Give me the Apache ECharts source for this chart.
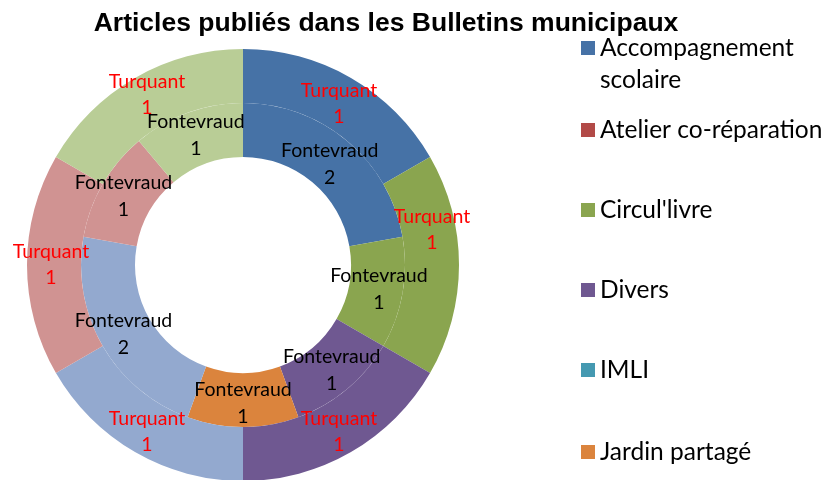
<!DOCTYPE html>
<html>
<head>
<meta charset="utf-8">
<script src="https://cdn.jsdelivr.net/npm/echarts@6/dist/echarts.min.js"></script>
<style>
  body{margin:0;background:#fff}
  #main{width:832px;height:480px}
</style>
</head>
<body>
<div id="main"></div>
<script>
// categories (the last three are cut off from the legend in the original)
let categories=['Accompagnement scolaire','Atelier co-réparation',"Circul'livre",'Divers','IMLI','Jardin partagé','Catégorie 7','Catégorie 8','Catégorie 9']
let legendNames=['Accompagnement scolaire','Atelier co-réparation',"Circul'livre",'Divers','IMLI','Jardin partagé']
let fontevraud=[2,0,1,1,0,1,2,1,1]
let turquant=[1,0,1,1,0,0,1,1,1]

let colors=['#4672a6','#b24a47','#8aa54f','#6f5891','#4599b1','#db843d','#93a9cf','#d09392','#b9cd96']
let legendTops=[0,114,194,274,354,436]

function buildData(values){
  return categories.map((name,i)=>({
    name:name,
    value:values[i],
    itemStyle:{color:colors[i]},
    label:{show:values[i]>0}
  }))
}

let legends=legendNames.map((name,i)=>({
  orient:'vertical',
  left:581,
  top:legendTops[i],
  padding:0,
  icon:'rect',
  itemWidth:14,
  itemHeight:14,
  data:[name],
  // blank first line so the square sits on the first text line
  formatter:n=>n==='Accompagnement scolaire'?'\nAccompagnement\nscolaire':n,
  textStyle:{
    fontFamily:'Lato',
    fontSize:24.5,
    lineHeight:32,
    color:'#000'
  }
}))

// small nudges, the way Excel placed a few labels
let innerNudge={0:[-2,5]}
let outerNudge={0:[0,5],2:[-3,-35],8:[0,-4]}
function nudge(table){
  return p=>{
    let d=table[p.dataIndex]||[0,0]
    return {dx:d[0],dy:d[1],hideOverlap:false}
  }
}

let option={
  animation:false,
  title:{
    text:'Articles publiés dans les Bulletins municipaux',
    left:386,
    top:10,
    padding:0,
    textAlign:'center',
    textStyle:{fontFamily:'Liberation Sans',fontWeight:'bold',fontSize:26.5,color:'#000'}
  },
  legend:legends,
  series:[
    {
      name:'Fontevraud',
      type:'pie',
      center:[243,265],
      radius:[108,162],
      label:{position:'inside',formatter:'{a}\n{c}',fontFamily:'Lato',fontSize:19.5,lineHeight:27,color:'#000'},
      labelLine:{show:false},
      labelLayout:nudge(innerNudge),
      data:buildData(fontevraud)
    },
    {
      name:'Turquant',
      type:'pie',
      center:[243,265],
      radius:[162,216],
      label:{position:'inside',formatter:'{a}\n{c}',fontFamily:'Lato',fontSize:19.5,lineHeight:26,color:'#ff0000'},
      labelLine:{show:false},
      labelLayout:nudge(outerNudge),
      data:buildData(turquant)
    }
  ]
}

let myChart=echarts.init(document.getElementById('main'))
myChart.setOption(option)
</script>
</body>
</html>
